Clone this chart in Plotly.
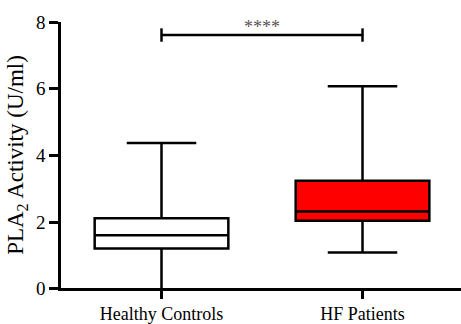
import plotly.graph_objects as go

categories = ["Healthy Controls", "HF Patients"]
q1 = [1.22, 2.05]
median = [1.62, 2.33]
q3 = [2.13, 3.25]
lower = [0.0, 1.10]
upper = [4.38, 6.08]
fills = ["#ffffff", "#ff0000"]
sig_label = "****"
sig_level = 7.61
y_ticks = [0, 2, 4, 6, 8]
y_tick_labels = ["0", "2", "4", "6", "8"]

SERIF = "Liberation Serif, Times New Roman, serif"
Y_MIN = 0.04  # hides the lower whisker cap behind the x axis line, as in the reference

fig = go.Figure()
for i, c in enumerate(categories):
    fig.add_trace(go.Box(
        x=[i], q1=[q1[i]], median=[median[i]], q3=[q3[i]],
        lowerfence=[lower[i]], upperfence=[upper[i]],
        fillcolor=fills[i], line=dict(color="black", width=2.5),
        width=0.665, whiskerwidth=0.52, boxpoints=False, showlegend=False,
        hoverinfo="skip",
    ))

# significance bracket
fig.add_shape(type="line", x0=0, x1=1, y0=sig_level, y1=sig_level,
              xref="x", yref="y", line=dict(color="black", width=2.5))
for xi in (0, 1):
    fig.add_shape(type="line", x0=xi, x1=xi, y0=sig_level - 0.2, y1=sig_level + 0.2,
                  xref="x", yref="y", line=dict(color="black", width=2.5))
fig.add_annotation(x=0.5, y=sig_level, xref="x", yref="y", text=sig_label,
                   showarrow=False, yanchor="bottom", yshift=-4,
                   font=dict(family=SERIF, size=18, color="#555"))

fig.update_layout(
    width=461, height=324,
    margin=dict(l=61, r=0, t=22, b=32),
    paper_bgcolor="white", plot_bgcolor="white",
    font=dict(family=SERIF, color="black"),
    xaxis=dict(
        range=[-0.5, 1.49], tickvals=[0, 1], ticktext=categories,
        showgrid=False, zeroline=False, showline=True, linecolor="black", linewidth=2.5,
        ticks="outside", ticklen=8, tickwidth=2.5, tickcolor="black",
        tickfont=dict(family=SERIF, size=18, color="black"),
    ),
    yaxis=dict(
        range=[Y_MIN, 8], tickvals=[max(v, Y_MIN) for v in y_ticks], ticktext=y_tick_labels,
        showgrid=False, zeroline=False, showline=True, linecolor="black", linewidth=2.5,
        ticks="outside", ticklen=9, tickwidth=2.5, tickcolor="black",
        tickfont=dict(family=SERIF, size=19, color="black"),
        title=dict(text="PLA<sub>2</sub> Activity (U/ml)", standoff=6,
                   font=dict(family=SERIF, size=23, color="black")),
    ),
)

fig.write_html("out.html")
